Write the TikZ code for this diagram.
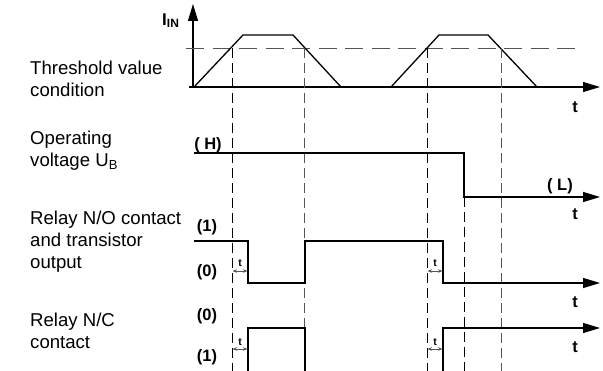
\documentclass[tikz,border=0pt]{standalone}
\usepackage{fontspec}
\setmainfont{Liberation Sans}
\usetikzlibrary{arrows.meta}
\definecolor{Ink}{HTML}{000000}
\definecolor{DashGray}{HTML}{555555}
\tikzset{
  signal/.style={line width=1.3pt, draw=Ink, line join=miter},
  tip/.style={-{Triangle[length=17pt,width=10pt]}},
  guide/.style={dash pattern=on 10pt off 5pt, line width=0.9pt, draw=Ink},
  guidegray/.style={guide, draw=DashGray},
  threshold/.style={dash pattern=on 18pt off 8.5pt, line width=0.9pt, draw=DashGray},
  delay/.style={{Stealth[length=4.5pt,width=3.5pt]}-{Stealth[length=4.5pt,width=3.5pt]},
    line width=0.7pt, draw=DashGray},
  desc/.style={anchor=north west, align=left, inner sep=0pt,
    font=\fontsize{18.6}{22}\selectfont},
  level/.style={font=\fontsize{16.5}{18}\selectfont\bfseries, inner sep=0pt},
  tlabel/.style={font=\fontsize{16.5}{18}\selectfont\bfseries, inner sep=0pt},
  tsmall/.style={font=\fontsize{10.5}{11}\selectfont\bfseries, inner sep=0pt}
}

\begin{document}
\begin{tikzpicture}[x=1pt,y=-1pt]
    \useasboundingbox (0,0) rectangle (603,371);

    % signal names
    \node[desc] (thr) at (30,61) {Threshold value\\condition};
    \node[desc] (ub) at (30,131) {Operating\\voltage U\textsubscript{B}};
    \node[desc] (no) at (30,211) {Relay N/O contact\\and transistor\\output};
    \node[desc] (nc) at (30,313) {Relay N/C\\contact};

    % input current with threshold
    \node[anchor=base west, inner sep=0pt, font=\fontsize{17}{18}\selectfont\bfseries]
      (iin) at (162,26) {I\raisebox{-2pt}{\fontsize{12}{12}\selectfont IN}};
    \draw[signal, tip, line width=1.1pt] (193,87) -- (193,4);
    \draw[signal, tip, line width=1.1pt] (189,87) -- (600,87);
    \draw[threshold] (186,48) -- (577,48);
    \draw[signal] (194,87) -- (243,35) -- (293,35) -- (341,87);
    \draw[signal] (391,87) -- (439,35) -- (488,35) -- (537,87);

    % switching instants
    \draw[guide] (232,48) -- (232,371);
    \draw[guidegray] (304.5,48) -- (304.5,371);
    \draw[guide] (427,48) -- (427,371);
    \draw[guidegray] (501,48) -- (501,371);
    \draw[guide] (464,197) -- (464,371);

    % operating voltage
    \draw[signal, tip] (194,153) -- (464,153) -- (464,197) -- (600,197);
    \node[level] (hi) at (208,145) {( H)};
    \node[level] (lo) at (560,186) {( L)};

    % N/O contact
    \draw[signal, tip] (194,241) -- (248,241) -- (248,283) -- (305,283)
      -- (305,241) -- (443,241) -- (443,283) -- (600,283);
    \node[level] (no1) at (207,227) {(1)};
    \node[level] (no0) at (207,272.5) {(0)};

    % N/C contact
    \draw[signal] (248,372) -- (248,328) -- (305,328) -- (305,372);
    \draw[signal, tip] (443,372) -- (443,328) -- (600,328);
    \node[level] (nc0) at (207,316) {(0)};
    \node[level] (nc1) at (207,357.5) {(1)};

    % time axes
    \node[tlabel] (t1) at (575,107) {t};
    \node[tlabel] (t2) at (575,214) {t};
    \node[tlabel] (t3) at (575,302.5) {t};
    \node[tlabel] (t4) at (575,347) {t};

    % delay times
    \draw[delay] (232.5,271) -- (247.5,271);
    \draw[delay] (232.5,349) -- (247.5,349);
    \draw[delay] (427.5,271) -- (442.5,271);
    \draw[delay] (427.5,349) -- (442.5,349);
    \node[tsmall] (d1) at (240,263) {t};
    \node[tsmall] (d2) at (240,342) {t};
    \node[tsmall] (d3) at (435,263) {t};
    \node[tsmall] (d4) at (435,342) {t};
  \end{tikzpicture}
\end{document}
